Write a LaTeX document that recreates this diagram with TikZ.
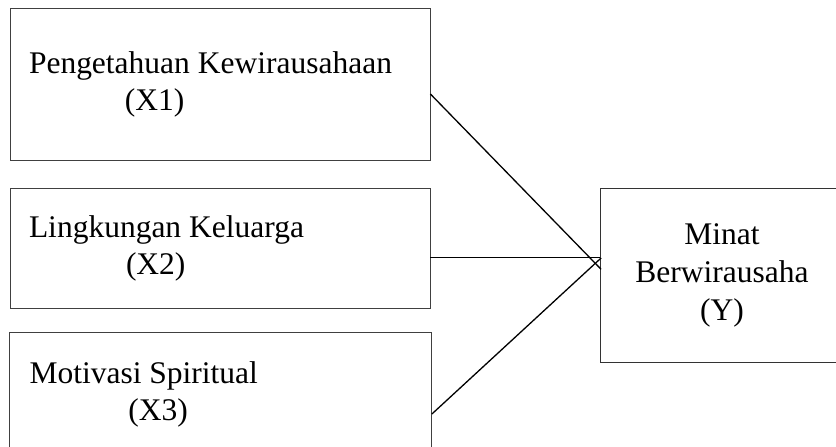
\documentclass[tikz,border=0pt]{standalone}
\usepackage{fontspec}
\setmainfont{Liberation Serif}
\usepackage{tikz}
\usetikzlibrary{positioning, calc}
\tikzset{
  varbox/.style={
    draw=black!75, line width=0.8pt, align=justify,
    font=\fontsize{31.5}{37}\selectfont,
    minimum width=420pt, text width=382pt, inner xsep=19pt
  },
  depbox/.style={
    draw=black!80, line width=0.8pt, align=justify,
    font=\fontsize{31.5}{38}\selectfont,
    minimum width=244pt, minimum height=174pt, text width=220pt
  },
  pathline/.style={
    line width=1.3pt, color=black
  },
}

\begin{document}
\begin{tikzpicture}[x=1pt, y=-1pt]
  \useasboundingbox (0,0) rectangle (836,447);

  % Independent variables
  \node[varbox, minimum height=152pt] (x1) at (220,84)
    {Pengetahuan Kewirausahaan\\\hspace*{96pt}(X1)};
  \node[varbox, minimum height=120pt] (x2) at (220,248)
    {Lingkungan Keluarga\\\hspace*{97pt}(X2)};
  \node[varbox, minimum width=422pt, minimum height=124pt,
    inner xsep=18pt] (x3) at (220.5,394)
    {Motivasi Spiritual\\\hspace*{99pt}(X3)};

  % Dependent variable
  \node[depbox] (y) at (722,275)
    {\centering Minat\\Berwirausaha\\(Y)\par};

  % Meeting points
  \coordinate (meet) at ([xshift=1.5pt, yshift=17pt]y.west);
  \coordinate (tip) at ([xshift=1.5pt, yshift=5.7pt]y.west);

  % Connectors
  \draw[pathline] ([yshift=-10pt]x1.east) -- (tip);
  \draw[pathline] ([yshift=-9.3pt]x2.east) -- ([yshift=17.7pt]y.west);
  \draw[pathline] ([yshift=-20pt]x3.east) -- (meet);
\end{tikzpicture}
\end{document}
